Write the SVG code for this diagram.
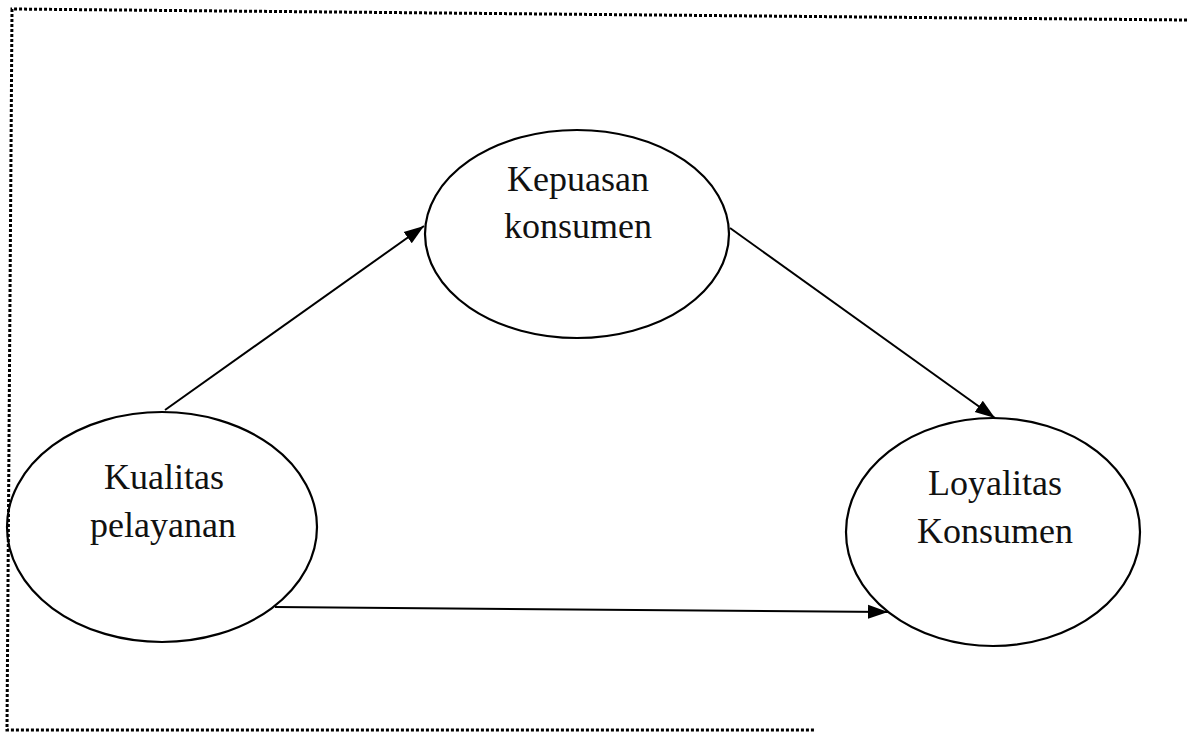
<svg xmlns="http://www.w3.org/2000/svg" width="1187" height="733" viewBox="0 0 1187 733">
<style>
.node ellipse{fill:none;stroke:#000;stroke-width:2.2}
.node text{font-family:"Liberation Serif","Times New Roman",serif;font-size:36px;fill:#111;text-anchor:middle}
.conn line{stroke:#000;stroke-width:2}
.frame{fill:none;stroke:#000;stroke-width:3;stroke-dasharray:3 2}
</style>
<defs>
<marker id="ah" markerUnits="userSpaceOnUse" markerWidth="22" markerHeight="16" viewBox="0 0 22 16" refX="20" refY="8" orient="auto">
<path d="M0,1 L20,8 L0,15 Z" fill="#000"/>
</marker>
</defs>
<polyline class="frame" points="1187,20 12,9 7,730 815,730"/>
<g class="conn">
<line x1="165" y1="410" x2="424" y2="226" marker-end="url(#ah)"/>
<line x1="730" y1="228" x2="995" y2="418" marker-end="url(#ah)"/>
<line x1="275" y1="607" x2="888" y2="612" marker-end="url(#ah)"/>
</g>
<g id="kepuasan" class="node">
<ellipse cx="577" cy="234" rx="152" ry="104"/>
<text x="578" y="191">Kepuasan</text>
<text x="578" y="238">konsumen</text>
</g>
<g id="kualitas" class="node">
<ellipse cx="162" cy="527" rx="155" ry="115"/>
<text x="164" y="489">Kualitas</text>
<text x="163" y="537">pelayanan</text>
</g>
<g id="loyalitas" class="node">
<ellipse cx="993" cy="532" rx="147" ry="114"/>
<text x="995" y="495">Loyalitas</text>
<text x="995" y="543">Konsumen</text>
</g>
</svg>
